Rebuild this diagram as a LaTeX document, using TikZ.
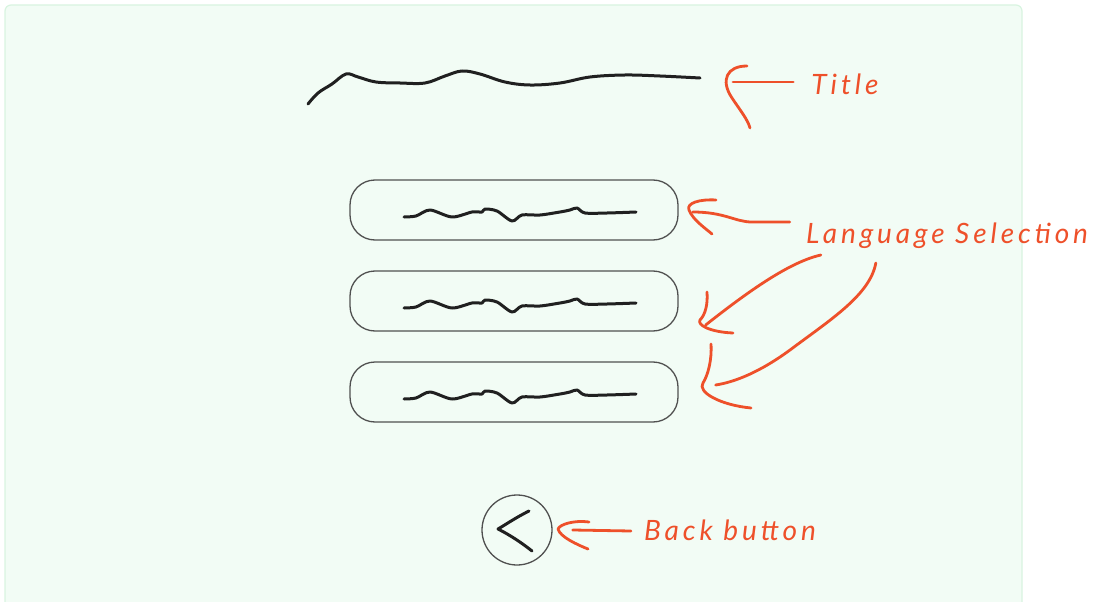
\documentclass[tikz,border=0pt]{standalone}
\usepackage{fontspec}
\usetikzlibrary{calc}
\newfontfamily\handfont[LetterSpace=14]{Lato}
\definecolor{panelgreen}{RGB}{242,252,245}
\definecolor{paneledge}{RGB}{216,244,224}
\definecolor{noteorange}{RGB}{238,80,42}
\definecolor{inkgray}{RGB}{80,80,80}
\definecolor{inkblack}{RGB}{32,32,32}

\begin{document}
\begin{tikzpicture}[x=1pt,y=-1pt,
    panel/.style={draw=paneledge,fill=panelgreen,line width=1.2pt,rounded corners=6pt},
    langbox/.style={rectangle,draw=inkgray,rounded corners=25pt,line width=1.3pt,
                    minimum width=328pt,minimum height=60pt},
    scribble/.style={draw=inkblack,line width=3pt,line cap=round,line join=round},
    hand/.style={draw=noteorange,line width=2.8pt,line cap=round,line join=round},
    note/.style={text=noteorange,font=\handfont\itshape\fontsize{28}{30}\selectfont,inner sep=0pt}
]
    \useasboundingbox (0,0) rectangle (1096,602);
    \path[panel] (5,5) rectangle (1022,620);

    % title placeholder
    \draw[scribble] plot[smooth,tension=0.6] coordinates {(308,104) (318,93) (332,84)
        (346,74) (358,77) (376,82) (400,83) (425,83) (445,76) (462,71) (480,74)
        (505,82) (530,85) (560,83) (590,77) (625,75) (660,76) (700,78)};
    \coordinate (title) at (700,78);

    % language buttons
    \foreach \i/\y in {1/210,2/301,3/392}{
        \node[langbox] (lang\i) at (514,\y) {};
        \draw[scribble,shift={(lang\i.center)}] plot[smooth,tension=0.5] coordinates {
            (-110,7) (-98,6) (-84,0) (-62,7) (-42,2) (-32,2) (-29,-1) (-17,1)
            (-2,11) (8,5) (26,5) (46,2) (56,0) (63,-2) (71,3) (93,3) (122,2)};
    }

    % back button
    \node[circle,draw=inkgray,line width=1.3pt,minimum size=70pt,inner sep=0pt] (back) at (517,530) {};
    \draw[scribble] (529,511) .. controls (515,518) and (505,525) .. (498,529)
        .. controls (510,535) and (522,543) .. (532,551);

    % notes
    \node[note] (titlelbl) at (845,84) {Title};
    \node[note] (langlbl) at (947,236) {Language Selection};
    \node[note] (backlbl) at (730,530) {Back button};

    \coordinate (t0) at ($(title)+(33,4)$);
    \coordinate (t1) at ($(lang1.east)+(14,2)$);
    \coordinate (t2) at ($(lang2.east)+(27,24)$);
    \coordinate (t3) at ($(lang3.east)+(37,-7)$);
    \coordinate (t4) at ($(back.east)+(20,0)$);

    \draw[hand] ($(titlelbl.west)+(-18,-2)$) -- (t0);
    \draw[hand] (747,66) .. controls (727,66) and (720,80) .. (732,98)
        .. controls (740,110) and (748,120) .. (750,128);

    \draw[hand] ($(langlbl.west)+(-16,-14)$) -- (752,222) .. controls (735,222) and (725,212) .. (t1);
    \draw[hand] (716,200) .. controls (700,199) and (686,203) .. (689,210)
        .. controls (693,220) and (705,228) .. (712,234);

    \draw[hand] ($(langlbl.west)+(15,19)$) .. controls (790,262) and (750,290) .. (t2);
    \draw[hand] (707,292) .. controls (708,305) and (705,315) .. (700,320)
        .. controls (697,325) and (710,332) .. (733,333);

    \draw[hand] ($(langlbl.west)+(70,27)$) .. controls (870,295) and (830,320) .. (790,350)
        .. controls (760,372) and (735,382) .. (t3);
    \draw[hand] (711,344) .. controls (712,360) and (708,375) .. (703,383)
        .. controls (697,392) and (720,405) .. (751,408);

    \draw[hand] ($(backlbl.west)+(-13,1)$) -- (t4);
    \draw[hand] (589,522) .. controls (575,520) and (560,524) .. (558,529)
        .. controls (560,537) and (578,545) .. (588,549);
\end{tikzpicture}
\end{document}
